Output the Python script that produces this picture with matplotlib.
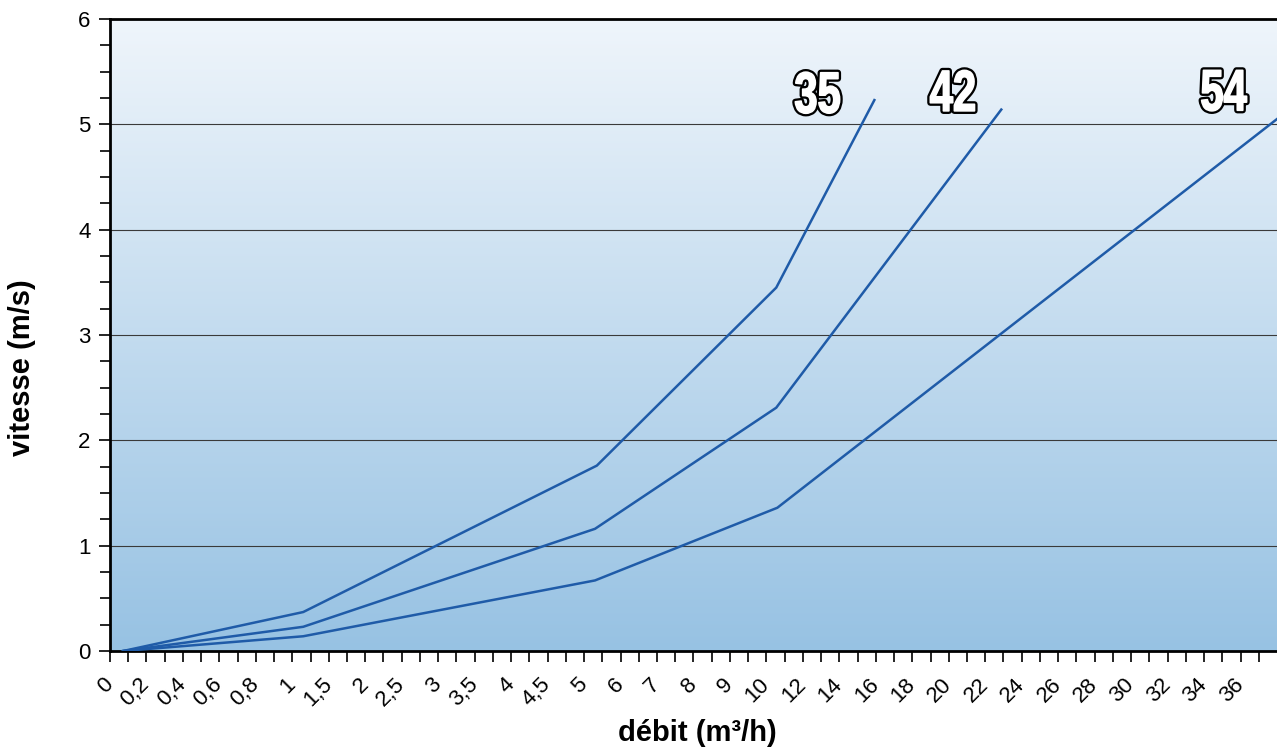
import numpy as np
import matplotlib
matplotlib.use("Agg")
from matplotlib import pyplot as plt
from matplotlib.colors import LinearSegmentedColormap
from matplotlib.textpath import TextPath
from matplotlib.patches import PathPatch
from matplotlib.font_manager import FontProperties
from matplotlib.transforms import Affine2D, IdentityTransform

plt.rcParams['font.family'] = ['Liberation Sans', 'DejaVu Sans']

# tick labels of the flow axis (equally spaced categories)
debit_labels = ['0', '0,2', '0,4', '0,6', '0,8', '1', '1,5', '2', '2,5', '3', '3,5',
                '4', '4,5', '5', '6', '7', '8', '9', '10', '12', '14', '16', '18',
                '20', '22', '24', '26', '28', '30', '32', '34', '36']

# curves, x in tick-index units
x_35 = [0.36, 5.3, 13.35, 18.27, 20.96]
y_35 = [0.0, 0.37, 1.76, 3.45, 5.23]
x_42 = [0.36, 5.3, 13.3, 18.27, 24.44]
y_42 = [0.0, 0.23, 1.16, 2.31, 5.14]
x_54 = [0.36, 5.3, 13.3, 18.3, 32.0]
y_54 = [0.0, 0.14, 0.67, 1.36, 5.05]

curves = [('35', x_35, y_35), ('42', x_42, y_42), ('54', x_54, y_54)]
label_pos = {'35': (19.4, 5.3), '42': (23.1, 5.32), '54': (30.55, 5.32)}

fig = plt.figure(figsize=(12.77, 7.47), dpi=100)
ax = fig.add_axes([0.0861, 0.1285, 0.9139, 0.8461])

xmax = len(debit_labels)
ax.set_xlim(0, xmax)
ax.set_ylim(0, 6)

# vertical gradient background
cmap = LinearSegmentedColormap.from_list('bg', ['#97c2e3', '#eff5fb'])
grad = np.linspace(0, 1, 256).reshape(-1, 1)
ax.imshow(grad, cmap=cmap, origin='lower', aspect='auto',
          extent=[0, xmax, 0, 6], zorder=0)

for yv in range(1, 6):
    ax.axhline(yv, color='#3a3a3a', lw=0.8, zorder=1)

line_col = '#1f5ba8'
fp = FontProperties(family='Liberation Sans', weight='bold')
for name, xs, ys in curves:
    ax.plot(xs, ys, color=line_col, lw=1.8, zorder=3, solid_joinstyle='miter')
    # condensed outlined labels
    tp = TextPath((0, 0), name, size=58, prop=fp)
    bb = tp.get_extents()
    px, py = ax.transData.transform(label_pos[name])
    tr = Affine2D().translate(-(bb.x0 + bb.width / 2), -(bb.y0 + bb.height / 2)) \
        .scale(0.72, 1.0).translate(px, py)
    path = tr.transform_path(tp)
    ax.add_artist(PathPatch(path, facecolor='black', edgecolor='black', lw=4.5,
                            joinstyle='round', transform=IdentityTransform(), zorder=4))
    ax.add_artist(PathPatch(path, facecolor='white', edgecolor='white', lw=1.2,
                            joinstyle='round', transform=IdentityTransform(), zorder=5))

ax.set_xticks(np.arange(len(debit_labels)))
ax.set_xticklabels(debit_labels, rotation=45, ha='right', va='center',
                   rotation_mode='anchor', fontsize=16)
ax.set_xticks(np.arange(0.5, xmax, 1.0), minor=True)
ax.set_yticks(range(0, 7))
ax.set_yticks(np.arange(0, 6, 0.25), minor=True)
ax.tick_params(axis='y', labelsize=16, length=8, width=1.2, direction='out', pad=6)
ax.tick_params(axis='y', which='minor', length=7, width=1.2)
ax.tick_params(axis='x', which='both', length=8, width=1.2, direction='out', pad=14)

for s in ['left', 'bottom', 'top']:
    ax.spines[s].set_linewidth(2)
ax.spines['right'].set_visible(False)

ax.set_xlabel('débit (m³/h)', fontsize=21, fontweight='bold', va='center')
ax.xaxis.set_label_coords(0.503, -0.13)
ax.set_ylabel('vitesse (m/s)', fontsize=21, fontweight='bold', va='center')
ax.yaxis.set_label_coords(-0.0754, 0.448)

fig.savefig('out.png', dpi=100)
